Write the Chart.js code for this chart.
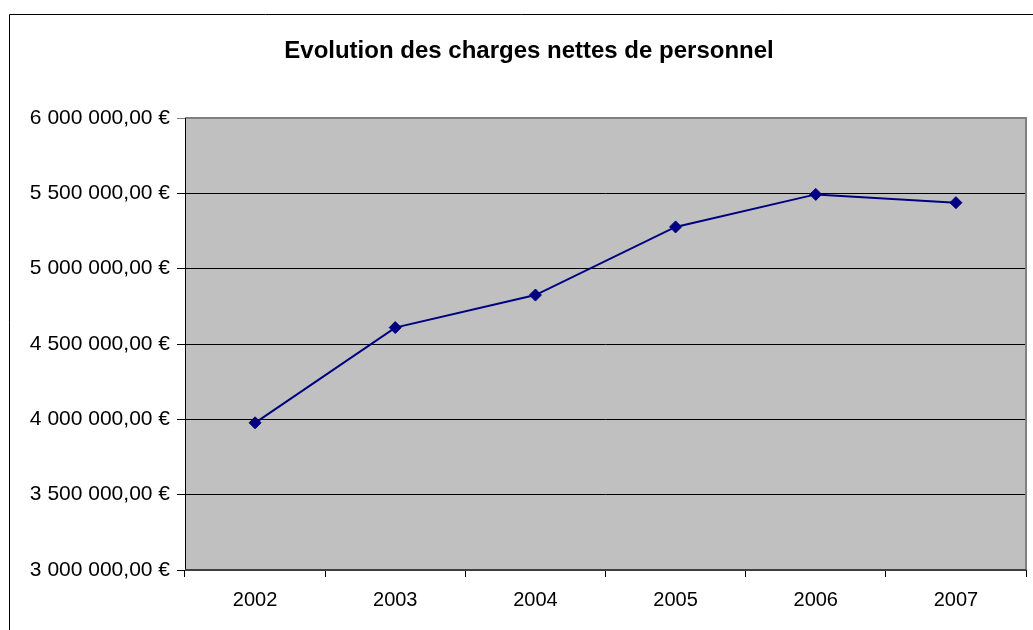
<!DOCTYPE html>
<html>
<head>
<meta charset="utf-8">
<script src="https://cdn.jsdelivr.net/npm/chart.js@4.4.1/dist/chart.umd.min.js"></script>
<style>
  html, body { margin: 0; padding: 0; background: #fff; }
  #wrap { width: 1033px; height: 630px; position: relative; }
</style>
</head>
<body>
<div id="wrap"><canvas id="c" width="1033" height="630"></canvas></div>
<script>
const titleText = "Evolution des charges nettes de personnel";
const categories = ["2002", "2003", "2004", "2005", "2006", "2007"];
const chargesNettes = [3977000, 4609000, 4825000, 5277000, 5493000, 5438000];
const yTickValues = [3000000, 3500000, 4000000, 4500000, 5000000, 5500000, 6000000];

function formatEuro(v) {
  const s = Math.round(v).toString().replace(/\B(?=(\d{3})+(?!\d))/g, " ");
  return s + ",00 €";
}

const FONT = "'Liberation Sans', Arial, sans-serif";

const decorPlugin = {
  id: 'decor',
  beforeDraw(chart) {
    const ctx = chart.ctx;
    const a = chart.chartArea;
    ctx.save();
    ctx.fillStyle = '#ffffff';
    ctx.fillRect(0, 0, chart.width, chart.height);
    // outer chart border
    ctx.strokeStyle = '#000000';
    ctx.lineWidth = 1;
    ctx.beginPath();
    ctx.moveTo(9.5, chart.height);
    ctx.lineTo(9.5, 14.5);
    ctx.lineTo(chart.width, 14.5);
    ctx.stroke();
    // plot background
    ctx.fillStyle = '#c0c0c0';
    ctx.fillRect(a.left, a.top, a.right - a.left, a.bottom - a.top);
    // title
    ctx.fillStyle = '#000000';
    ctx.font = "bold 24px " + FONT;
    ctx.textAlign = 'center';
    ctx.textBaseline = 'alphabetic';
    ctx.fillText(titleText, 529, 57.5);
    ctx.restore();
  },
  beforeDatasetsDraw(chart) {
    const ctx = chart.ctx;
    const a = chart.chartArea;
    ctx.save();
    ctx.strokeStyle = '#808080';
    ctx.lineWidth = 2;
    ctx.beginPath();
    ctx.moveTo(a.left, a.top);
    ctx.lineTo(a.right, a.top);
    ctx.lineTo(a.right, a.bottom);
    ctx.stroke();
    ctx.strokeStyle = '#000000';
    ctx.lineWidth = 1;
    ctx.beginPath();
    ctx.moveTo(a.left + 0.5, a.top);
    ctx.lineTo(a.left + 0.5, a.bottom);
    ctx.stroke();
    ctx.strokeStyle = '#404040';
    ctx.lineWidth = 2;
    ctx.beginPath();
    ctx.moveTo(a.left, a.bottom);
    ctx.lineTo(a.right, a.bottom);
    ctx.stroke();
    ctx.restore();
  }
};

new Chart(document.getElementById('c'), {
  type: 'line',
  data: {
    labels: categories,
    datasets: [{
      data: chargesNettes,
      borderColor: '#000080',
      backgroundColor: '#000080',
      borderWidth: 2,
      pointStyle: 'rectRot',
      pointRadius: 6,
      pointBorderWidth: 1,
      pointBackgroundColor: '#000080',
      pointBorderColor: '#000080',
      tension: 0,
      fill: false
    }]
  },
  options: {
    responsive: false,
    animation: false,
    devicePixelRatio: 1,
    layout: { padding: { top: 118, left: 0, right: 2, bottom: 0 } },
    plugins: {
      legend: { display: false },
      title: { display: false },
      tooltip: { enabled: false }
    },
    scales: {
      x: {
        type: 'category',
        offset: true,
        afterFit(s) { s.height = 60; },
        grid: {
          offset: true,
          drawOnChartArea: false,
          drawTicks: true,
          tickLength: 7,
          color: '#000000',
          lineWidth: 1
        },
        border: { display: false },
        ticks: {
          color: '#000000',
          font: { family: FONT, size: 20 },
          padding: 11,
          maxRotation: 0
        }
      },
      y: {
        min: 3000000,
        max: 6000000,
        afterFit(s) { s.width = 185; },
        afterBuildTicks(s) { s.ticks = yTickValues.map(v => ({ value: v })); },
        grid: {
          color: (c) => (c.tick && c.tick.value === 6000000) ? '#808080' : '#000000',
          lineWidth: 1,
          tickLength: 8,
          drawTicks: true
        },
        border: { display: false },
        ticks: {
          color: '#000000',
          font: { family: FONT, size: 21 },
          padding: 7,
          callback: (v) => formatEuro(v)
        }
      }
    }
  },
  plugins: [decorPlugin]
});
</script>
</body>
</html>
